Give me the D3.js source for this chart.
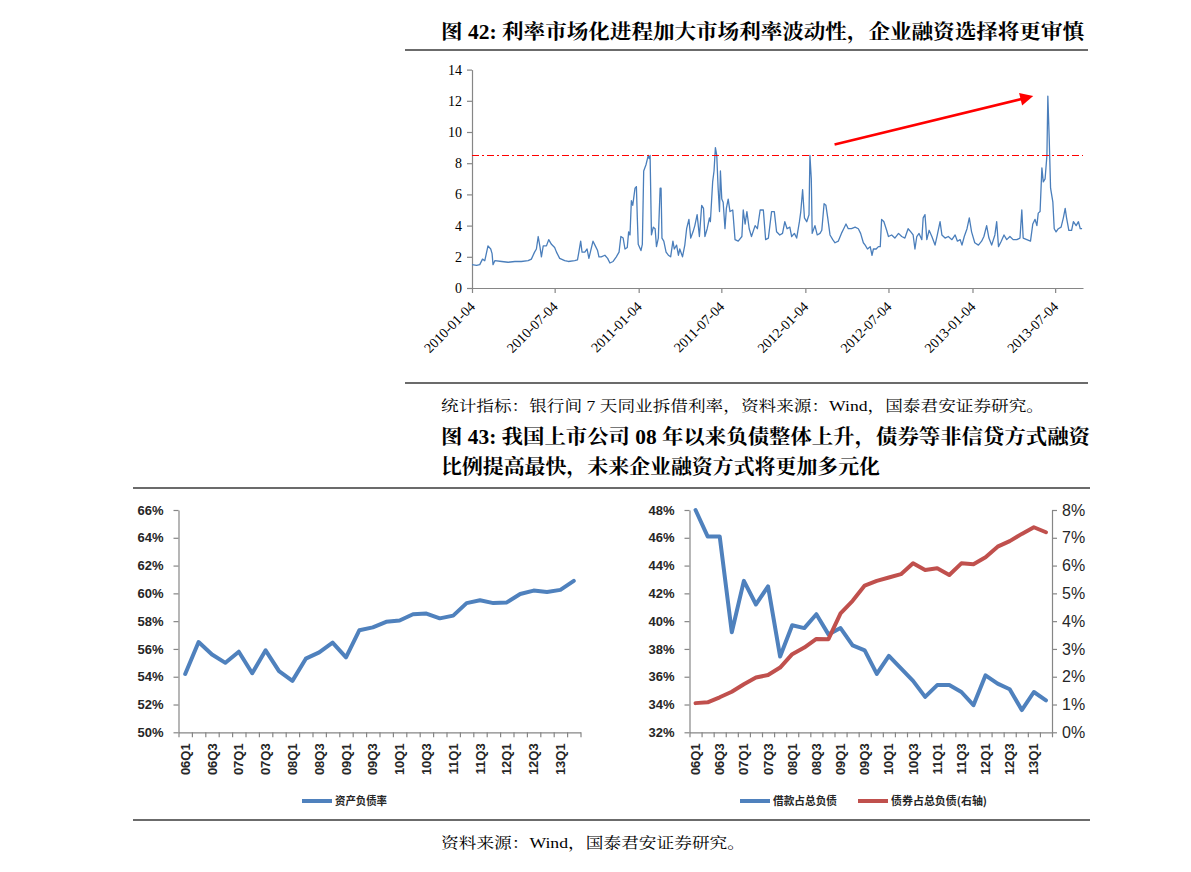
<!DOCTYPE html>
<html><head><meta charset="utf-8">
<script src="https://cdn.jsdelivr.net/npm/d3@7"></script>
<style>body{margin:0;background:#fff;}svg{display:block;}</style>
</head><body>
<svg id="c" width="1191" height="872"></svg>
<script>
// ---------- Figure 42 data: interbank 7-day rate (%) ----------
const rateDates = ["2010-01-04","2010-01-14","2010-01-21","2010-01-27","2010-02-01","2010-02-08","2010-02-14","2010-02-17","2010-02-19","2010-02-23","2010-03-10","2010-03-24","2010-04-08","2010-04-22","2010-05-07","2010-05-14","2010-05-21","2010-05-25","2010-05-29","2010-06-02","2010-06-05","2010-06-09","2010-06-16","2010-06-21","2010-06-27","2010-07-04","2010-07-08","2010-07-15","2010-07-26","2010-08-03","2010-08-17","2010-08-23","2010-08-26","2010-08-30","2010-09-02","2010-09-08","2010-09-13","2010-09-17","2010-09-21","2010-09-26","2010-10-01","2010-10-06","2010-10-09","2010-10-14","2010-10-22","2010-10-28","2010-11-02","2010-11-09","2010-11-16","2010-11-22","2010-11-26","2010-12-01","2010-12-05","2010-12-10","2010-12-13","2010-12-16","2010-12-19","2010-12-22","2010-12-27","2010-12-30","2011-01-01","2011-01-03","2011-01-09","2011-01-12","2011-01-15","2011-01-20","2011-01-25","2011-01-27","2011-01-29","2011-02-01","2011-02-05","2011-02-09","2011-02-12","2011-02-16","2011-02-20","2011-02-22","2011-02-24","2011-02-28","2011-03-05","2011-03-10","2011-03-15","2011-03-20","2011-03-23","2011-03-28","2011-04-01","2011-04-04","2011-04-10","2011-04-15","2011-04-19","2011-04-24","2011-04-28","2011-05-03","2011-05-07","2011-05-12","2011-05-17","2011-05-22","2011-05-26","2011-05-29","2011-06-03","2011-06-08","2011-06-10","2011-06-15","2011-06-18","2011-06-21","2011-06-24","2011-06-27","2011-06-30","2011-07-02","2011-07-05","2011-07-08","2011-07-12","2011-07-15","2011-07-19","2011-07-23","2011-07-29","2011-08-03","2011-08-10","2011-08-18","2011-08-21","2011-08-25","2011-08-29","2011-09-03","2011-09-08","2011-09-16","2011-09-21","2011-09-27","2011-10-04","2011-10-09","2011-10-15","2011-10-22","2011-10-28","2011-11-02","2011-11-09","2011-11-15","2011-11-20","2011-11-25","2011-12-01","2011-12-05","2011-12-11","2011-12-16","2011-12-22","2011-12-25","2011-12-29","2012-01-02","2012-01-07","2012-01-12","2012-01-14","2012-01-17","2012-01-19","2012-01-25","2012-01-30","2012-02-05","2012-02-09","2012-02-14","2012-02-18","2012-02-22","2012-02-27","2012-03-04","2012-03-09","2012-03-16","2012-03-23","2012-03-28","2012-04-02","2012-04-07","2012-04-14","2012-04-22","2012-04-29","2012-05-04","2012-05-10","2012-05-14","2012-05-19","2012-05-25","2012-05-29","2012-06-01","2012-06-07","2012-06-12","2012-06-16","2012-06-19","2012-06-24","2012-06-30","2012-07-04","2012-07-11","2012-07-18","2012-07-26","2012-08-02","2012-08-09","2012-08-16","2012-08-22","2012-08-27","2012-08-31","2012-09-04","2012-09-09","2012-09-15","2012-09-18","2012-09-22","2012-09-26","2012-10-01","2012-10-07","2012-10-14","2012-10-19","2012-10-25","2012-10-29","2012-11-05","2012-11-12","2012-11-20","2012-11-27","2012-12-02","2012-12-08","2012-12-12","2012-12-17","2012-12-23","2012-12-28","2013-01-02","2013-01-09","2013-01-17","2013-01-24","2013-01-29","2013-02-04","2013-02-09","2013-02-15","2013-02-22","2013-02-26","2013-03-02","2013-03-08","2013-03-14","2013-03-20","2013-03-27","2013-04-03","2013-04-11","2013-04-18","2013-04-22","2013-04-25","2013-05-03","2013-05-11","2013-05-16","2013-05-21","2013-05-25","2013-05-28","2013-06-01","2013-06-05","2013-06-08","2013-06-12","2013-06-16","2013-06-18","2013-06-21","2013-06-24","2013-06-29","2013-07-02","2013-07-06","2013-07-11","2013-07-17","2013-07-22","2013-07-26","2013-07-29","2013-08-03","2013-08-09","2013-08-13","2013-08-19","2013-08-24","2013-08-28","2013-09-01"];
const rateValues = [1.5,1.45,1.5,1.85,1.75,2.7,2.5,2.2,1.5,1.75,1.7,1.65,1.7,1.7,1.75,1.85,2.3,2.5,3.3,2.6,2.0,2.7,2.7,3.1,2.8,2.6,2.3,1.9,1.75,1.7,1.75,1.8,2.3,3.0,2.3,2.3,2.5,1.9,2.4,3.0,2.7,2.4,2.0,2.0,2.1,1.9,1.6,1.7,2.0,2.3,3.3,3.2,2.5,2.6,3.6,3.4,5.6,5.3,6.4,6.5,4.5,2.8,2.4,2.8,7.5,7.9,8.5,8.3,8.5,3.4,3.9,3.8,2.65,3.2,6.4,6.4,3.2,3.0,2.3,2.1,2.0,3.0,2.5,2.75,2.1,2.5,2.0,2.75,3.8,4.4,3.2,3.6,4.0,4.7,3.3,5.3,5.1,3.3,3.8,4.5,4.25,6.8,7.5,9.0,8.5,6.4,4.9,7.5,5.7,5.5,3.8,5.1,5.7,4.9,5.0,3.1,3.0,3.3,5.0,4.1,4.9,3.8,3.3,4.0,3.8,5.0,5.0,3.1,3.2,4.9,4.9,3.6,3.4,3.5,4.25,3.8,3.9,3.3,3.5,3.2,4.25,4.9,6.3,4.5,4.25,4.7,8.5,7.0,3.5,4.0,3.4,3.5,3.7,5.4,5.3,4.5,3.4,3.1,2.9,3.0,3.5,3.8,4.1,3.8,3.8,3.9,3.8,3.5,2.9,2.75,2.5,2.65,2.1,2.5,2.5,2.65,2.65,4.4,4.25,3.7,3.3,3.4,3.2,3.5,3.3,3.2,3.8,3.6,3.4,2.5,3.3,3.5,3.1,4.5,4.7,3.1,3.7,3.3,2.75,3.4,4.25,3.4,3.2,3.3,3.1,3.4,3.0,3.1,2.75,3.3,3.8,4.5,3.6,2.9,2.75,3.0,3.3,4.0,3.2,2.75,3.4,4.25,2.65,3.0,3.4,3.1,3.3,3.1,3.1,3.2,5.0,3.2,3.1,3.0,4.1,4.4,4.0,4.8,4.9,7.7,6.8,7.0,8.5,12.3,9.6,6.4,5.5,3.8,3.6,3.8,3.9,4.5,5.1,4.5,3.7,3.7,4.25,4.0,4.25,3.8,3.8];
const rateDomain = ["2010-01-04","2013-09-03"];
const rateTickDates = ["2010-01-04","2010-07-04","2011-01-04","2011-07-04","2012-01-04","2012-07-04","2013-01-04","2013-07-04"];
const rateYTicks = [0,2,4,6,8,10,12,14];
const refLevel = 8.5;
const arrowFrom = ["2012-03-08", 9.2];
const arrowTo = ["2013-05-17", 12.3];

// ---------- Figure 43 data ----------
const quarters = ["06Q1","06Q2","06Q3","06Q4","07Q1","07Q2","07Q3","07Q4","08Q1","08Q2","08Q3","08Q4","09Q1","09Q2","09Q3","09Q4","10Q1","10Q2","10Q3","10Q4","11Q1","11Q2","11Q3","11Q4","12Q1","12Q2","12Q3","12Q4","13Q1","13Q2"];
const quarterTickLabels = ["06Q1","06Q3","07Q1","07Q3","08Q1","08Q3","09Q1","09Q3","10Q1","10Q3","11Q1","11Q3","12Q1","12Q3","13Q1"];
const debtRatio = [54.2,56.5,55.6,55.0,55.8,54.25,55.9,54.4,53.7,55.3,55.75,56.45,55.4,57.35,57.55,57.95,58.05,58.5,58.55,58.2,58.4,59.3,59.5,59.3,59.35,59.95,60.2,60.1,60.25,60.9];
const loanShare = [48.0,46.1,46.1,39.2,42.9,41.2,42.5,37.45,39.7,39.5,40.5,39.05,39.5,38.25,37.9,36.2,37.5,36.6,35.7,34.55,35.4,35.4,34.9,33.95,36.1,35.5,35.1,33.6,34.9,34.3];
const bondShare = [1.05,1.08,1.26,1.46,1.73,1.97,2.06,2.33,2.81,3.05,3.36,3.35,4.28,4.73,5.28,5.45,5.57,5.69,6.08,5.84,5.90,5.66,6.08,6.05,6.30,6.68,6.88,7.14,7.38,7.20];
const debtTicks = [50,52,54,56,58,60,62,64,66];
const loanTicks = [32,34,36,38,40,42,44,46,48];
const bondTicks = [0,1,2,3,4,5,6,7,8];

// ---------- drawing ----------
const svg = d3.select("#c");
svg.append("rect").attr("width",1191).attr("height",872).attr("fill","#fff");
const SERIF = '"Liberation Serif","Noto Serif CJK SC","Noto Sans CJK SC",serif';
const SANS = '"Liberation Sans","Noto Sans CJK SC",sans-serif';
const CJK = '"Noto Sans CJK SC","Liberation Sans",sans-serif';
const AXIS = "#868686";
const BLUE = "#4F81BD", RED = "#C0504D";

function label(x, y, s, o) {
  const t = svg.append("text").attr("x", x).attr("y", y).text(s)
    .attr("font-family", o.family || SERIF).attr("font-size", o.size)
    .attr("font-weight", o.weight || "normal").attr("fill", o.fill || "#000");
  if (o.len) t.attr("textLength", o.len).attr("lengthAdjust", "spacingAndGlyphs");
  return t;
}
function rule(x1, x2, y) {
  svg.append("line").attr("x1", x1).attr("x2", x2).attr("y1", y).attr("y2", y)
    .attr("stroke", "#3a3a3a").attr("stroke-width", 1.6);
}

// titles & rules
label(441, 39, "图 42: 利率市场化进程加大市场利率波动性，企业融资选择将更审慎", {size: 20, weight: "bold", len: 643});
rule(405, 1088, 50);
rule(405, 1088, 383);
label(441, 411, "统计指标：银行间 7 天同业拆借利率，资料来源：Wind，国泰君安证券研究。", {size: 15, len: 603});
label(441, 444, "图 43: 我国上市公司 08 年以来负债整体上升，债券等非信贷方式融资", {size: 20, weight: "bold", len: 649});
label(441, 474, "比例提高最快，未来企业融资方式将更加多元化", {size: 20, weight: "bold", len: 439});
rule(133, 1090, 488);
rule(133, 1090, 820);
label(441, 848, "资料来源：Wind，国泰君安证券研究。", {size: 15, len: 304});

// ---------- top chart ----------
const parse = d3.timeParse("%Y-%m-%d");
const fmt = d3.timeFormat("%Y-%m-%d");
const xT = d3.scaleTime(rateDomain.map(parse), [472, 1083]);
const yT = d3.scaleLinear([0, 14], [288, 69.6]);

function styleAxis(g, size, weight, family, fill) {
  g.attr("font-family", family).attr("font-size", size).attr("font-weight", weight);
  g.select(".domain").attr("stroke", AXIS).attr("stroke-width", 1.2);
  g.selectAll(".tick line").attr("stroke", AXIS).attr("stroke-width", 1.2);
  g.selectAll(".tick text").attr("fill", fill);
}

const gyT = svg.append("g").attr("transform", "translate(472,0)")
  .call(d3.axisLeft(yT).tickValues(rateYTicks).tickSize(5).tickSizeOuter(0).tickPadding(5));
styleAxis(gyT, 14, "normal", SERIF, "#000");

const gxT = svg.append("g").attr("transform", "translate(0,288)")
  .call(d3.axisBottom(xT).tickValues(rateTickDates.map(parse)).tickSize(5).tickSizeOuter(0).tickFormat(""));
styleAxis(gxT, 14, "normal", SERIF, "#000");
gxT.selectAll(".tick").append("text")
  .attr("transform", "translate(0,16) rotate(-45)")
  .attr("text-anchor", "end").attr("fill", "#000").attr("dy", "0.35em")
  .text(d => fmt(d));

const rateData = rateDates.map((d, i) => ({date: parse(d), v: rateValues[i]}));
svg.append("path").datum(rateData)
  .attr("d", d3.line().x(d => xT(d.date)).y(d => yT(d.v)))
  .attr("fill", "none").attr("stroke", "#4A7EBB").attr("stroke-width", 1.3).attr("stroke-linejoin", "round");

svg.append("line")
  .attr("x1", xT.range()[0]).attr("x2", xT.range()[1])
  .attr("y1", Math.round(yT(refLevel)) + 0.5).attr("y2", Math.round(yT(refLevel)) + 0.5)
  .attr("stroke", "#FF0000").attr("stroke-width", 1.1).attr("stroke-dasharray", "7,3,2,3");

// arrow
{
  const x1 = xT(parse(arrowFrom[0])), y1 = yT(arrowFrom[1]);
  const x2 = xT(parse(arrowTo[0])), y2 = yT(arrowTo[1]);
  const L = Math.hypot(x2 - x1, y2 - y1), ux = (x2 - x1) / L, uy = (y2 - y1) / L;
  const hl = 13, hw = 6.5;
  const bx = x2 - ux * hl, by = y2 - uy * hl;
  svg.append("line").attr("x1", x1).attr("y1", y1).attr("x2", bx + ux * 2).attr("y2", by + uy * 2)
    .attr("stroke", "#FF0000").attr("stroke-width", 2.6);
  svg.append("path")
    .attr("d", `M${x2},${y2}L${bx - uy * hw},${by + ux * hw}L${bx + uy * hw},${by - ux * hw}Z`)
    .attr("fill", "#FF0000");
}

// ---------- bottom charts ----------
function categoryAxis(x0, x1, yBase, band) {
  const idx = d3.scaleLinear([0, quarters.length], [x0, x1]);
  const g = svg.append("g").attr("transform", `translate(0,${yBase})`)
    .call(d3.axisBottom(idx).tickValues(d3.range(quarters.length + 1)).tickSize(5).tickSizeOuter(0).tickFormat(""));
  styleAxis(g, 13, "bold", SANS, "#262626");
  svg.append("g").selectAll("text").data(quarterTickLabels).join("text")
    .attr("transform", d => `translate(${band(d) + band.bandwidth() / 2},${yBase + 11}) rotate(-90)`)
    .attr("text-anchor", "end").attr("dy", "0.35em")
    .attr("font-family", SANS).attr("font-size", 13).attr("font-weight", "bold").attr("fill", "#262626")
    .text(d => d);
}
function seriesLine(data, band, y, color) {
  svg.append("path").datum(data)
    .attr("d", d3.line().x((d, i) => band(quarters[i]) + band.bandwidth() / 2).y(d => y(d)))
    .attr("fill", "none").attr("stroke", color).attr("stroke-width", 4)
    .attr("stroke-linejoin", "round").attr("stroke-linecap", "round");
}
function legendItem(x, y, color, s, len) {
  svg.append("line").attr("x1", x).attr("x2", x + 30).attr("y1", y).attr("y2", y)
    .attr("stroke", color).attr("stroke-width", 4);
  svg.append("text").attr("x", x + 33).attr("y", y + 4).text(s)
    .attr("font-family", CJK).attr("font-size", 11).attr("font-weight", "bold").attr("fill", "#262626")
    .attr("textLength", len).attr("lengthAdjust", "spacingAndGlyphs");
}

// left: asset-liability ratio
const xL = d3.scaleBand(quarters, [178.5, 580.5]);
const yL = d3.scaleLinear([50, 66], [732.3, 510]);
const gyL = svg.append("g").attr("transform", "translate(178.5,0)")
  .call(d3.axisLeft(yL).tickValues(debtTicks).tickFormat(d => d + "%").tickSize(5).tickSizeOuter(0).tickPadding(10));
styleAxis(gyL, 13, "bold", SANS, "#262626");
categoryAxis(178.5, 580.5, 732.3, xL);
seriesLine(debtRatio, xL, yL, BLUE);
legendItem(302, 801, BLUE, "资产负债率", 52);

// right: loans vs bonds
const xR = d3.scaleBand(quarters, [689.5, 1052]);
const yRL = d3.scaleLinear([32, 48], [732.3, 510]);
const yRR = d3.scaleLinear([0, 8], [732.3, 510]);
const gyRL = svg.append("g").attr("transform", "translate(689.5,0)")
  .call(d3.axisLeft(yRL).tickValues(loanTicks).tickFormat(d => d + "%").tickSize(5).tickSizeOuter(0).tickPadding(10));
styleAxis(gyRL, 13, "bold", SANS, "#262626");
const gyRR = svg.append("g").attr("transform", "translate(1052,0)")
  .call(d3.axisRight(yRR).tickValues(bondTicks).tickFormat(d => d + "%").tickSize(5).tickSizeOuter(0).tickPadding(5));
styleAxis(gyRR, 16, "normal", SANS, "#262626");
categoryAxis(689.5, 1052, 732.3, xR);
seriesLine(loanShare, xR, yRL, BLUE);
seriesLine(bondShare, xR, yRR, RED);
legendItem(740, 801, BLUE, "借款占总负债", 64);
legendItem(858, 801, RED, "债券占总负债(右轴)", 96);
</script>
</body></html>
